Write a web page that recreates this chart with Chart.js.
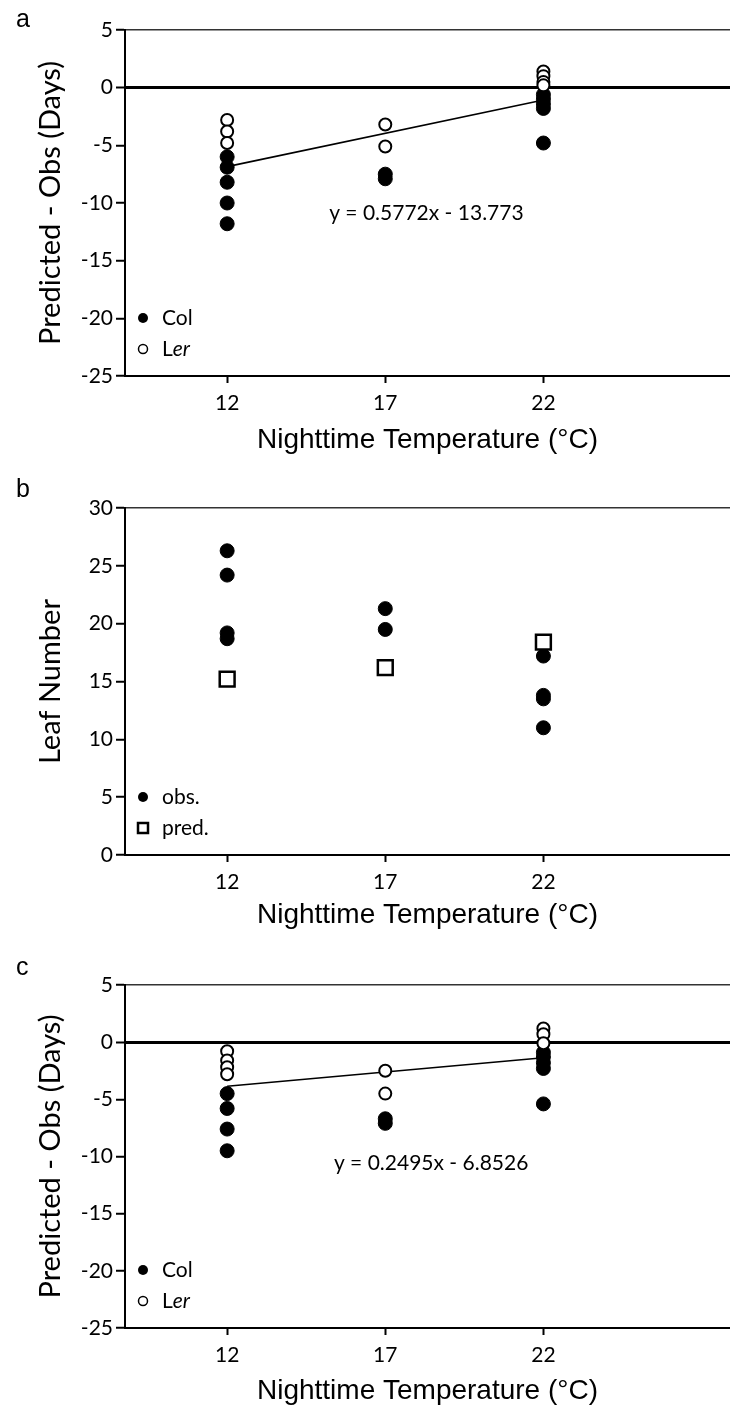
<!DOCTYPE html>
<html>
<head>
<meta charset="utf-8">
<script src="https://cdn.jsdelivr.net/npm/chart.js@4.4.1/dist/chart.umd.min.js"></script>
<style>
  body { margin: 0; background: #fff; width: 730px; height: 1408px; position: relative; overflow: hidden; }
  .panel { position: absolute; left: 0; width: 730px; }
  .tag { position: absolute; left: 16px; font: 25px "Liberation Sans", Arial, sans-serif; color: #000; }
</style>
</head>
<body>
<div class="panel" style="top:0;height:470px"><canvas id="chartA" width="730" height="470"></canvas></div>
<div class="panel" style="top:470px;height:475px"><canvas id="chartB" width="730" height="475"></canvas></div>
<div class="panel" style="top:945px;height:463px"><canvas id="chartC" width="730" height="463"></canvas></div>
<div class="tag" style="top:4px">a</div>
<div class="tag" style="top:474px">b</div>
<div class="tag" style="top:952px">c</div>
<script>
// x categories (nighttime temperature, °C)
const xTicks = [12, 17, 22];

// panel a: predicted - observed (days)
const aColX = [12, 12, 12, 12, 12, 17, 17, 22, 22, 22, 22, 22];
const aColY = [-6.0, -6.9, -8.2, -10.0, -11.8, -7.5, -7.9, -0.6, -1.0, -1.4, -1.8, -4.8];
const aLerX = [12, 12, 12, 17, 17, 22, 22, 22, 22];
const aLerY = [-2.8, -3.8, -4.8, -3.2, -5.1, 1.4, 1.0, 0.5, 0.2];
const aFit = [0.5772, -13.773];
const aEquation = 'y = 0.5772x - 13.773';

// panel b: leaf number
const bObsX = [12, 12, 12, 12, 17, 17, 22, 22, 22, 22];
const bObsY = [26.3, 24.2, 19.2, 18.7, 21.3, 19.5, 17.2, 13.8, 13.5, 11.0];
const bPredX = [12, 17, 22];
const bPredY = [15.2, 16.2, 18.4];

// panel c: predicted - observed (days)
const cColX = [12, 12, 12, 12, 17, 17, 22, 22, 22, 22, 22];
const cColY = [-4.5, -5.8, -7.6, -9.5, -6.7, -7.1, -0.9, -1.3, -1.8, -2.3, -5.4];
const cLerX = [12, 12, 12, 12, 17, 17, 22, 22, 22];
const cLerY = [-0.8, -1.6, -2.2, -2.8, -2.5, -4.5, 1.2, 0.7, -0.1];
const cFit = [0.2495, -6.8526];
const cEquation = 'y = 0.2495x - 6.8526';

const tickFont = { family: 'Lato, "Open Sans", sans-serif', size: 21 };
const titleFont = { family: '"Liberation Sans Narrow", "Liberation Sans", Arial, sans-serif', size: 28 };
const yTitleFont = { family: 'Lato, "Open Sans", sans-serif', size: 29 };
const noteFont = '21px Lato, "Open Sans", sans-serif';

const pts = (xs, ys) => xs.map((x, i) => ({ x: x, y: ys[i] }));
const fitLine = (f) => [12, 22].map(x => ({ x: x, y: f[0] * x + f[1] }));

const filled = (data) => ({ data: data, pointStyle: 'circle', pointRadius: 7, backgroundColor: '#000', borderColor: '#000', borderWidth: 1 });
const open = (data) => ({ data: data, pointStyle: 'circle', pointRadius: 6, backgroundColor: '#fff', borderColor: '#000', borderWidth: 2 });
const square = (data) => ({ data: data, pointStyle: 'rect', pointRadius: 10.5, backgroundColor: '#fff', borderColor: '#000', borderWidth: 2.5 });
const trend = (data) => ({ type: 'line', data: data, borderColor: '#000', borderWidth: 1.6, pointRadius: 0, fill: false });

// legend items and equation text, drawn on the canvas
const notes = {
  id: 'notes',
  afterDatasetsDraw(chart, args, o) {
    const ctx = chart.ctx, area = chart.chartArea;
    ctx.save();
    ctx.fillStyle = '#000';
    ctx.textBaseline = 'middle';
    o.items.forEach((it, i) => {
      const y = area.bottom - 58 + i * 31;
      const x = area.left + 18;
      ctx.beginPath();
      if (it.marker === 'filled') {
        ctx.arc(x, y, 5, 0, Math.PI * 2); ctx.fill();
      } else if (it.marker === 'open') {
        ctx.lineWidth = 1.5; ctx.arc(x, y, 4.5, 0, Math.PI * 2); ctx.stroke();
      } else {
        ctx.lineWidth = 2.5; ctx.strokeRect(x - 5, y - 5, 10, 10);
      }
      let tx = x + 19;
      it.parts.forEach(p => {
        ctx.font = (p.italic ? 'italic ' : '') + noteFont;
        ctx.textAlign = 'left';
        ctx.fillText(p.t, tx, y);
        tx += ctx.measureText(p.t).width;
      });
    });
    if (o.equation) {
      ctx.font = noteFont;
      ctx.textAlign = 'center';
      ctx.fillText(o.equation.text, chart.scales.x.getPixelForValue(o.equation.x), chart.scales.y.getPixelForValue(o.equation.y));
    }
    ctx.restore();
  }
};

function buildChart(id, cfg) {
  return new Chart(document.getElementById(id), {
    type: 'scatter',
    data: { datasets: cfg.datasets },
    options: {
      responsive: false,
      animation: false,
      layout: { autoPadding: false, padding: { top: cfg.top, left: 0, right: 0, bottom: 0 } },
      plugins: {
        legend: { display: false },
        tooltip: { enabled: false },
        notes: { items: cfg.legend, equation: cfg.equation }
      },
      scales: {
        x: {
          type: 'linear', min: 8.77, max: 27.9,
          afterBuildTicks: ax => { ax.ticks = xTicks.map(v => ({ value: v })); },
          afterFit: s => { s.height = cfg.xHeight; s.paddingLeft = 0; s.paddingRight = 0; },
          border: { color: '#000', width: 2 },
          grid: { drawOnChartArea: false, tickLength: 7, tickColor: '#000', tickWidth: 2 },
          ticks: { font: tickFont, color: '#000', padding: 8 },
          title: { display: true, text: 'Nighttime Temperature (°C)', font: titleFont, color: '#000', padding: { top: 0, bottom: cfg.xTitlePad } }
        },
        y: {
          min: cfg.yMin, max: cfg.yMax,
          ticks: { stepSize: 5, font: tickFont, color: '#000', padding: 3 },
          afterFit: s => { s.width = 125; },
          border: { color: '#000', width: 2 },
          grid: {
            color: c => (c.tick && c.tick.value === 0 && cfg.zeroLine) ? '#000' : (c.tick && c.tick.value === cfg.yMax ? '#333' : 'rgba(0,0,0,0)'),
            lineWidth: c => (c.tick && c.tick.value === 0 && cfg.zeroLine) ? 3 : 1.5,
            tickColor: '#000', tickWidth: 2, tickLength: 9
          },
          title: { display: true, text: cfg.yTitle, font: yTitleFont, color: '#000', padding: { top: 33, bottom: 0 } }
        }
      }
    },
    plugins: [notes]
  });
}

buildChart('chartA', {
  top: 30, xHeight: 94, xTitlePad: 13, yMin: -25, yMax: 5, zeroLine: true,
  yTitle: 'Predicted - Obs (Days)',
  datasets: [open(pts(aLerX, aLerY)), filled(pts(aColX, aColY)), trend(fitLine(aFit))],
  legend: [{ marker: 'filled', parts: [{ t: 'Col' }] }, { marker: 'open', parts: [{ t: 'L' }, { t: 'er', italic: true }] }],
  equation: { text: aEquation, x: 18.3, y: -10.9 }
});

buildChart('chartB', {
  top: 38, xHeight: 90, xTitlePad: 13, yMin: 0, yMax: 30, zeroLine: false,
  yTitle: 'Leaf Number',
  datasets: [square(pts(bPredX, bPredY)), filled(pts(bObsX, bObsY))],
  legend: [{ marker: 'filled', parts: [{ t: 'obs.' }] }, { marker: 'square', parts: [{ t: 'pred.' }] }]
});

buildChart('chartC', {
  top: 40, xHeight: 80, xTitlePad: 0, yMin: -25, yMax: 5, zeroLine: true,
  yTitle: 'Predicted - Obs (Days)',
  datasets: [open(pts(cLerX, cLerY)), filled(pts(cColX, cColY)), trend(fitLine(cFit))],
  legend: [{ marker: 'filled', parts: [{ t: 'Col' }] }, { marker: 'open', parts: [{ t: 'L' }, { t: 'er', italic: true }] }],
  equation: { text: cEquation, x: 18.45, y: -10.6 }
});
</script>
</body>
</html>
